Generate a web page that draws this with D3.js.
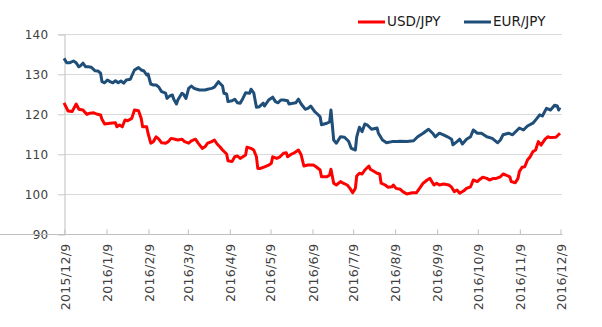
<!DOCTYPE html>
<html>
<head>
<meta charset="utf-8">
<script src="https://cdn.jsdelivr.net/npm/d3@7"></script>
<style>
  html, body { margin: 0; padding: 0; background: #fff; }
  svg { display: block; font-family: "DejaVu Sans", Verdana, sans-serif; }
</style>
</head>
<body>
<svg id="chart" width="602" height="327"></svg>
<script>
// ---- data ----
const seriesNames = ["USD/JPY", "EUR/JPY"];
const xTickLabels = ["2015/12/9","2016/1/9","2016/2/9","2016/3/9","2016/4/9","2016/5/9","2016/6/9",
  "2016/7/9","2016/8/9","2016/9/9","2016/10/9","2016/11/9","2016/12/9"];
const yTicks = [90, 100, 110, 120, 130, 140];

const usdDates = ["2015-12-09","2015-12-12","2015-12-15","2015-12-18","2015-12-20","2015-12-23","2015-12-24","2015-12-26","2015-12-28","2015-12-31",
  "2016-01-02","2016-01-05","2016-01-06","2016-01-08","2016-01-12","2016-01-16","2016-01-17","2016-01-19","2016-01-21","2016-01-23","2016-01-25","2016-01-28","2016-01-30",
  "2016-02-02","2016-02-04","2016-02-05","2016-02-08","2016-02-09","2016-02-11","2016-02-13","2016-02-15","2016-02-17","2016-02-19","2016-02-22","2016-02-24","2016-02-26","2016-02-29",
  "2016-03-02","2016-03-05","2016-03-07","2016-03-10","2016-03-12","2016-03-15","2016-03-17","2016-03-20","2016-03-22","2016-03-24","2016-03-27","2016-03-29","2016-03-31",
  "2016-04-02","2016-04-04","2016-04-07","2016-04-08","2016-04-11","2016-04-13","2016-04-15","2016-04-17","2016-04-19","2016-04-21","2016-04-22","2016-04-25","2016-04-27","2016-04-29","2016-04-30",
  "2016-05-02","2016-05-05","2016-05-08","2016-05-10","2016-05-11","2016-05-14","2016-05-16","2016-05-19","2016-05-21","2016-05-22","2016-05-25","2016-05-27","2016-05-30",
  "2016-06-01","2016-06-03","2016-06-06","2016-06-10","2016-06-12","2016-06-15","2016-06-16","2016-06-20","2016-06-22","2016-06-23","2016-06-25","2016-06-27","2016-06-30",
  "2016-07-02","2016-07-05","2016-07-07","2016-07-09","2016-07-11","2016-07-12","2016-07-14","2016-07-16","2016-07-18","2016-07-21","2016-07-22","2016-07-24","2016-07-27","2016-07-29","2016-07-30",
  "2016-08-02","2016-08-04","2016-08-07","2016-08-08","2016-08-10","2016-08-13","2016-08-15","2016-08-18","2016-08-22","2016-08-25","2016-08-28","2016-08-30",
  "2016-09-02","2016-09-04","2016-09-07","2016-09-09","2016-09-11","2016-09-14","2016-09-18","2016-09-20","2016-09-22","2016-09-24","2016-09-26","2016-09-29",
  "2016-10-01","2016-10-04","2016-10-06","2016-10-09","2016-10-11","2016-10-13","2016-10-16","2016-10-18","2016-10-21","2016-10-23","2016-10-26","2016-10-28","2016-10-30",
  "2016-11-02","2016-11-03","2016-11-06","2016-11-08","2016-11-09","2016-11-11","2016-11-13","2016-11-15","2016-11-17","2016-11-19","2016-11-21","2016-11-23","2016-11-25","2016-11-28","2016-11-30",
  "2016-12-02","2016-12-06","2016-12-09"];
const usdValues = [122.8,120.75,120.6,122.5,121.2,121.0,120.6,119.9,120.2,120.3,
  120.0,119.75,118.7,117.5,117.7,117.8,116.8,117.25,116.8,118.5,118.3,118.9,121.0,
  120.8,118.9,116.8,116.8,115.2,112.7,113.1,114.3,113.7,112.8,112.7,113.1,113.9,113.7,
  113.5,113.7,113.1,112.7,113.3,113.7,112.7,111.4,111.8,112.7,113.1,113.5,112.5,
  111.8,111.0,110.0,108.3,108.1,109.3,109.5,108.9,109.3,109.75,111.7,111.4,111.0,109.3,106.4,
  106.4,106.8,107.2,107.7,109.3,108.9,109.2,110.2,110.3,109.3,110.0,110.3,111.0,
  109.8,107.0,107.25,107.25,106.8,106.0,104.3,104.3,104.75,106.2,102.7,102.25,103.1,
  102.7,102.25,101.4,100.3,101.4,104.5,105.2,105.0,106.0,107.0,106.2,105.8,105.2,105.0,102.7,
  102.25,101.7,101.8,102.25,101.4,101.2,100.6,100.0,100.3,100.3,101.7,102.7,
  103.5,103.9,102.25,102.7,102.25,102.5,102.25,101.7,100.6,101.0,100.2,100.8,
  101.4,101.8,103.5,103.1,103.7,104.2,103.9,103.5,103.9,103.9,104.3,105.0,104.75,
  104.3,103.1,102.8,103.9,105.6,106.7,106.8,108.5,109.3,110.6,111.0,113.1,112.2,113.7,114.3,
  114.1,114.2,115.2];

const eurDates = ["2015-12-09","2015-12-11","2015-12-13","2015-12-16","2015-12-18","2015-12-20","2015-12-21","2015-12-23","2015-12-25","2015-12-27","2015-12-29",
  "2016-01-01","2016-01-03","2016-01-05","2016-01-06","2016-01-08","2016-01-10","2016-01-12","2016-01-14","2016-01-16","2016-01-18","2016-01-20","2016-01-22","2016-01-24","2016-01-27","2016-01-28","2016-01-30",
  "2016-02-01","2016-02-02","2016-02-04","2016-02-06","2016-02-08","2016-02-09","2016-02-11","2016-02-13","2016-02-15","2016-02-17","2016-02-19","2016-02-22","2016-02-23","2016-02-25","2016-02-27","2016-02-28",
  "2016-03-01","2016-03-02","2016-03-05","2016-03-06","2016-03-08","2016-03-10","2016-03-12","2016-03-14","2016-03-16","2016-03-18","2016-03-22","2016-03-24","2016-03-27","2016-03-29",
  "2016-04-01","2016-04-02","2016-04-04","2016-04-05","2016-04-07","2016-04-08","2016-04-11","2016-04-13","2016-04-15","2016-04-17","2016-04-19","2016-04-21","2016-04-24","2016-04-25","2016-04-27","2016-04-29",
  "2016-05-01","2016-05-04","2016-05-05","2016-05-08","2016-05-11","2016-05-13","2016-05-15","2016-05-17","2016-05-19","2016-05-22","2016-05-23","2016-05-26","2016-05-28","2016-05-30",
  "2016-06-01","2016-06-04","2016-06-06","2016-06-08","2016-06-11","2016-06-13","2016-06-15","2016-06-16","2016-06-20","2016-06-22","2016-06-23","2016-06-25","2016-06-27","2016-06-30",
  "2016-07-03","2016-07-06","2016-07-08","2016-07-11","2016-07-12","2016-07-14","2016-07-16","2016-07-18","2016-07-20","2016-07-23","2016-07-27","2016-07-28","2016-07-31",
  "2016-08-03","2016-08-07","2016-08-11","2016-08-13","2016-08-18","2016-08-23","2016-08-26","2016-08-30",
  "2016-09-03","2016-09-06","2016-09-08","2016-09-11","2016-09-14","2016-09-17","2016-09-20","2016-09-21","2016-09-24","2016-09-26","2016-09-28",
  "2016-10-01","2016-10-04","2016-10-06","2016-10-09","2016-10-12","2016-10-16","2016-10-20","2016-10-24","2016-10-26","2016-10-28",
  "2016-11-01","2016-11-04","2016-11-09","2016-11-12","2016-11-15","2016-11-19","2016-11-22","2016-11-24","2016-11-26","2016-11-29",
  "2016-12-02","2016-12-05","2016-12-07","2016-12-08","2016-12-09"];
const eurValues = [133.9,132.8,132.8,133.25,132.8,131.8,132.0,132.7,131.8,131.8,131.7,
  130.8,130.75,130.2,128.1,127.8,128.5,128.1,127.8,128.3,127.8,128.25,127.7,128.5,128.7,129.5,131.0,
  131.4,131.6,131.0,130.75,129.75,130.0,127.5,127.25,127.25,126.7,125.6,125.2,123.9,124.5,124.75,123.7,
  122.5,123.5,125.2,125.0,123.9,126.4,127.0,126.4,126.2,126.0,126.0,126.2,126.4,126.7,
  128.1,127.7,127.0,125.2,125.0,123.1,123.3,123.7,122.8,122.7,123.9,125.3,125.2,126.2,125.3,121.7,
  121.8,122.7,122.0,123.5,124.2,123.1,122.8,123.5,123.5,123.3,122.5,122.7,122.8,123.7,
  122.5,121.2,121.4,122.0,120.6,120.0,119.3,117.3,117.7,118.0,121.0,113.5,112.7,114.3,
  114.2,113.2,111.4,111.0,114.3,116.7,115.6,117.5,117.2,116.2,116.5,115.2,113.5,
  112.8,113.1,113.1,113.2,113.1,113.3,114.3,115.2,
  116.2,115.2,114.3,115.2,114.8,114.3,113.7,112.3,113.1,113.7,112.5,
  113.7,114.3,116.0,115.2,115.2,114.3,113.9,112.8,113.5,114.8,
  115.2,114.8,116.5,116.0,117.0,117.7,118.9,119.8,119.5,121.4,
  121.0,122.2,122.0,121.0,121.6];

// ---- chart ----
const parseISO = d3.timeParse("%Y-%m-%d");
const parseTick = d3.timeParse("%Y/%m/%d");
const colors = ["#ff0000", "#1f4e79"];

const svg = d3.select("#chart");
const x = d3.scaleTime().domain([parseTick("2015/12/9"), parseTick("2016/12/9")]).range([64, 560]);
const y = d3.scaleLinear().domain([90, 140]).range([234, 34]);

// gridlines
svg.append("g").selectAll("line").data(yTicks.filter(v => v !== 90)).join("line")
  .attr("x1", 58).attr("x2", 562)
  .attr("y1", d => y(d) + 0.5).attr("y2", d => y(d) + 0.5)
  .attr("stroke", "#d9d9d9").attr("stroke-width", 1);

// y axis
const yAxis = svg.append("g").attr("transform", "translate(64.5,0.5)")
  .call(d3.axisLeft(y).tickValues(yTicks).tickSize(6).tickPadding(10).tickFormat(d3.format("d")));
yAxis.select(".domain").attr("stroke", "#bfbfbf");
yAxis.selectAll(".tick line").attr("stroke", "#d9d9d9");
yAxis.selectAll(".tick text").attr("fill", "#404040")
  .style("font-size", "12px").style("font-family", "DejaVu Sans, sans-serif").style("letter-spacing", "0.3px");

// x axis
const xTickDates = xTickLabels.map(parseTick);
const xAxis = svg.append("g").attr("transform", "translate(0.5,234.5)")
  .call(d3.axisBottom(x).tickValues(xTickDates).tickSizeInner(-5).tickSizeOuter(0)
    .tickFormat((d, i) => xTickLabels[i]));
xAxis.select(".domain").attr("stroke", "#bfbfbf").attr("d", "M-0.5,0H562");
xAxis.selectAll(".tick line").attr("stroke", "#bfbfbf");
xAxis.selectAll(".tick text")
  .attr("transform", "rotate(-90)")
  .attr("x", -9).attr("y", 0).attr("dy", "0.36em")
  .attr("text-anchor", "end")
  .attr("fill", "#404040")
  .style("font-size", "12.5px").style("font-family", "DejaVu Sans, sans-serif").style("letter-spacing", "0.3px");

// lines
const series = [
  { name: seriesNames[0], dates: usdDates, values: usdValues },
  { name: seriesNames[1], dates: eurDates, values: eurValues }
];
const line = d3.line().x(d => x(d[0])).y(d => y(d[1]));
series.forEach((s, i) => {
  const pts = s.dates.map((d, j) => [parseISO(d), s.values[j]]);
  svg.append("path").datum(pts)
    .attr("d", line)
    .attr("fill", "none")
    .attr("stroke", colors[i])
    .attr("stroke-width", 3)
    .attr("stroke-linejoin", "round")
    .attr("stroke-linecap", "butt");
});

// legend
const legendX = [358, 464];
const legend = svg.append("g");
series.forEach((s, i) => {
  legend.append("line")
    .attr("x1", legendX[i]).attr("x2", legendX[i] + 27)
    .attr("y1", 22).attr("y2", 22)
    .attr("stroke", colors[i]).attr("stroke-width", 3);
  legend.append("text")
    .attr("x", legendX[i] + 29).attr("y", 26)
    .attr("fill", "#1a1a1a")
    .style("font-size", "13.5px")
    .text(s.name);
});
</script>
</body>
</html>
